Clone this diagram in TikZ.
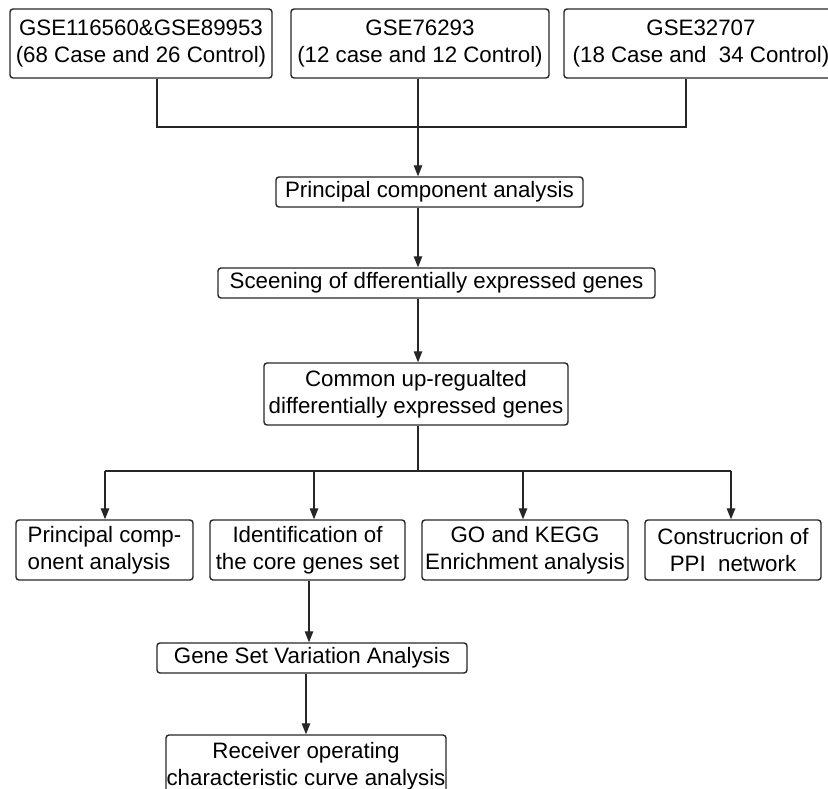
\documentclass[tikz,border=0pt]{standalone}
\usepackage{fontspec}
\setmainfont{Liberation Sans}
\usetikzlibrary{arrows.meta}
\tikzset{
  box/.style={draw=black!85, line width=1.4pt, rounded corners=3pt, inner sep=0pt,
    align=center, font=\fontsize{22.3}{27}\selectfont, text=black},
  conn/.style={draw=black!85, line width=1.3pt},
  arr/.style={conn, -{Triangle[length=11pt,width=8.5pt]}}
}
\begin{document}
\begin{tikzpicture}[x=1pt,y=-1pt]
\useasboundingbox (0,0) rectangle (828,789);
\clip (0,0) rectangle (828,789);
% top datasets
\node[box, minimum width=262pt, minimum height=69pt] (t1) at (141,43.5) {GSE116560\&GSE89953\\(68 Case and 26 Control)};
\node[box, minimum width=258pt, minimum height=69pt] (t2) at (420,43.5) {GSE76293\\(12 case and 12 Control)};
\node[box, minimum width=274pt, minimum height=69pt] (t3) at (701,43.5) {GSE32707\\(18 Case and\ \ 34 Control)};
\coordinate (j1) at (157,127);
\coordinate (j2) at (418,127);
\coordinate (j3) at (686,127);
% chain
\node[box, minimum width=307pt, minimum height=30pt] (pca) at (429.5,192) {Principal component analysis};
\node[box, minimum width=437pt, minimum height=30pt] (scr) at (436.5,283) {Sceening of dfferentially expressed genes};
\node[box, minimum width=304pt, minimum height=62pt] (com) at (416,394) {Common up-regualted\\differentially expressed genes};
\coordinate (j4) at (418,471);
\coordinate (hA) at (105,471);
\coordinate (hB) at (314,471);
\coordinate (hC) at (523,471);
\coordinate (hD) at (731,471);
% bottom row
\node[box, minimum width=177pt, minimum height=60pt, align=left] (bA) at (104.5,550) {Principal comp-\\onent analysis};
\node[box, minimum width=195pt, minimum height=60pt] (bB) at (307.5,550) {Identification of\\the core genes set};
\node[box, minimum width=206pt, minimum height=60pt] (bC) at (525,550) {GO and KEGG\\Enrichment analysis};
\node[box, minimum width=176pt, minimum height=60pt] (bD) at (733,550) {Construcrion of\\PPI\ \ network};
\node[box, minimum width=310pt, minimum height=30pt] (gsva) at (312,658) {Gene Set Variation Analysis};
\node[box, minimum width=280pt, minimum height=62pt] (roc) at (306,766) {Receiver operating\\characteristic curve analysis};
\coordinate (xg) at (309,0);
\coordinate (xr) at (306,0);
% connectors
\draw[conn] (t1.south -| j1) -- (j1) -- (j3) -- (t3.south -| j3);
\draw[conn] (t2.south -| j2) -- (j2);
\draw[arr] (j2) -- (j2 |- pca.north);
\draw[arr] (pca.south -| j2) -- (scr.north -| j2);
\draw[arr] (scr.south -| j2) -- (com.north -| j2);
\draw[conn] (com.south -| j4) -- (j4);
\draw[conn] (hA) -- (hD);
\draw[arr] (hA) -- (hA |- bA.north);
\draw[arr] (hB) -- (hB |- bB.north);
\draw[arr] (hC) -- (hC |- bC.north);
\draw[arr] (hD) -- (hD |- bD.north);
\draw[arr] (bB.south -| xg) -- (gsva.north -| xg);
\draw[arr] (gsva.south -| xr) -- (roc.north -| xr);
\end{tikzpicture}
\end{document}
